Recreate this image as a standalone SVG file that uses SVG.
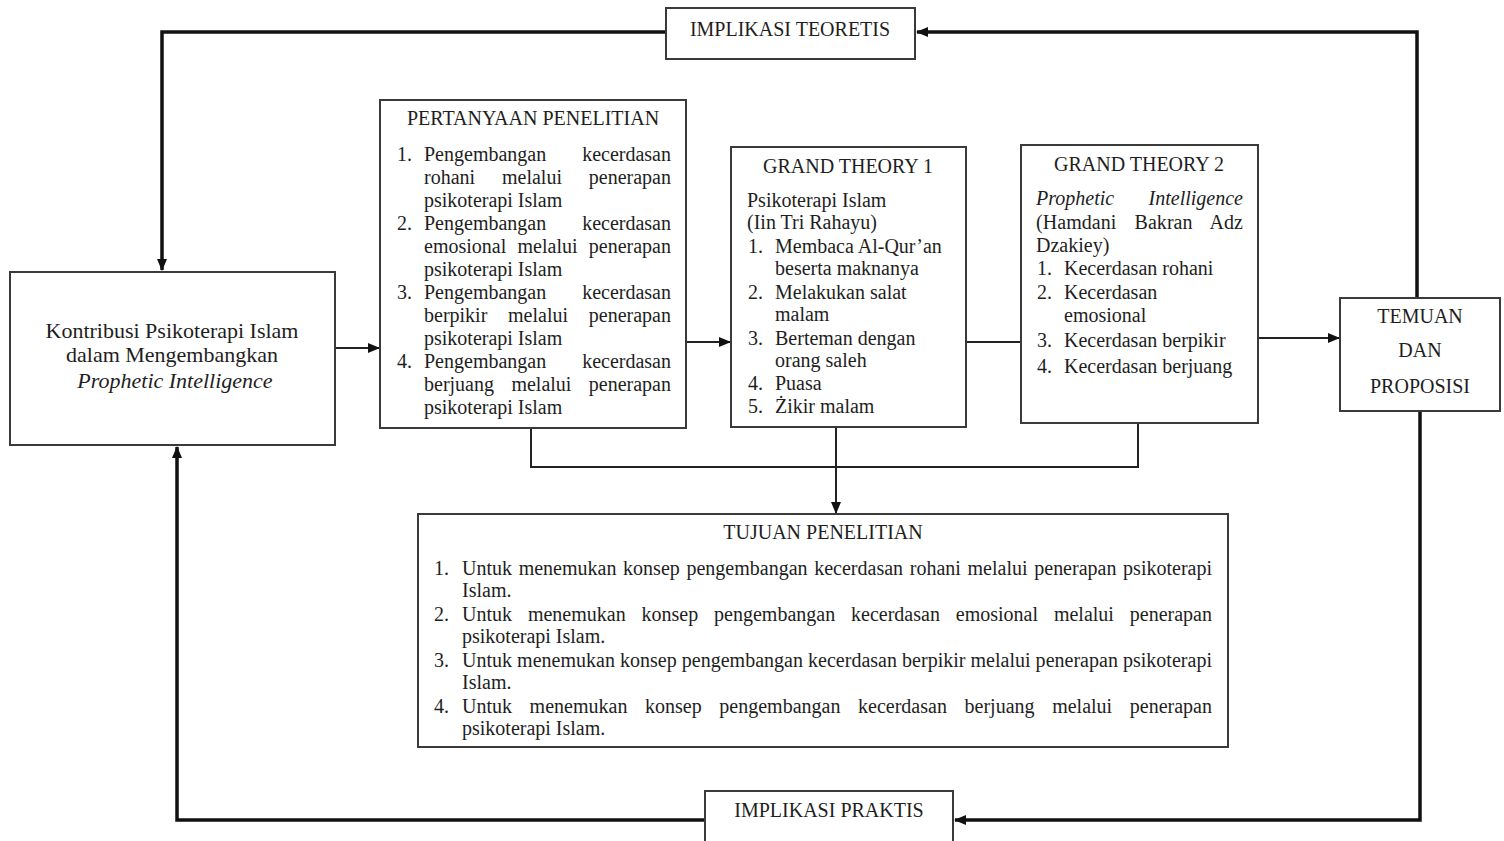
<svg xmlns="http://www.w3.org/2000/svg" width="1504" height="841" viewBox="0 0 1504 841">
<defs>
<style>
.box{fill:#fff;stroke:#3a3a3a;stroke-width:2}
.t{font-family:"Liberation Serif","Times New Roman",serif;font-size:20px;fill:#1e1e1e}
.big{font-size:22px}
.c{text-anchor:middle}
.e{text-anchor:end}
.i{font-style:italic}
.thick{fill:none;stroke:#111;stroke-width:3.5}
.thin{fill:none;stroke:#222;stroke-width:2}
</style>
<marker id="ah" markerUnits="userSpaceOnUse" markerWidth="12" markerHeight="12" viewBox="0 0 12 12" refX="11" refY="6" orient="auto">
<path d="M0,1 L12,6 L0,11 Z" fill="#111"/>
</marker>
</defs>
<rect width="1504" height="841" fill="#fff"/>

<g id="connectors">
<path class="thick" d="M1417,298 V32 H917" marker-end="url(#ah)"/>
<path class="thick" d="M666,32 H162 V270" marker-end="url(#ah)"/>
<path class="thick" d="M1420,411 V820 H955" marker-end="url(#ah)"/>
<path class="thick" d="M705,820 H177 V447" marker-end="url(#ah)"/>
<path class="thin" d="M335,348 H379" marker-end="url(#ah)"/>
<path class="thin" d="M686,342 H730" marker-end="url(#ah)"/>
<path class="thin" d="M966,342 H1021"/>
<path class="thin" d="M1258,338 H1339" marker-end="url(#ah)"/>
<path class="thin" d="M531,428 V467 H1138 V423"/>
<path class="thin" d="M836,427 V513" marker-end="url(#ah)"/>
</g>

<g id="implikasi-teoretis">
<rect class="box" x="666" y="8" width="249" height="51"/>
<text class="t c" x="790" y="36">IMPLIKASI TEORETIS</text>
</g>

<g id="kontribusi">
<rect class="box" x="10" y="272" width="325" height="173"/>
<text class="t big c" x="172" y="338">Kontribusi Psikoterapi Islam</text>
<text class="t big c" x="172" y="362">dalam Mengembangkan</text>
<text class="t big c i" x="175" y="388">Prophetic Intelligence</text>
</g>

<g id="pertanyaan">
<rect class="box" x="380" y="100" width="306" height="328"/>
<text class="t c" x="533" y="125">PERTANYAAN PENELITIAN</text>
<text class="t" x="397" y="161">1.</text>
<text class="t" x="424" y="161">Pengembangan</text><text class="t e" x="671" y="161">kecerdasan</text>
<text class="t" x="424" y="184" word-spacing="21.8" textLength="247">rohani melalui penerapan</text>
<text class="t" x="424" y="207">psikoterapi Islam</text>
<text class="t" x="397" y="230">2.</text>
<text class="t" x="424" y="230">Pengembangan</text><text class="t e" x="671" y="230">kecerdasan</text>
<text class="t" x="424" y="253" word-spacing="6.3" textLength="247">emosional melalui penerapan</text>
<text class="t" x="424" y="276">psikoterapi Islam</text>
<text class="t" x="397" y="299">3.</text>
<text class="t" x="424" y="299">Pengembangan</text><text class="t e" x="671" y="299">kecerdasan</text>
<text class="t" x="424" y="322" word-spacing="15.7" textLength="247">berpikir melalui penerapan</text>
<text class="t" x="424" y="345">psikoterapi Islam</text>
<text class="t" x="397" y="368">4.</text>
<text class="t" x="424" y="368">Pengembangan</text><text class="t e" x="671" y="368">kecerdasan</text>
<text class="t" x="424" y="391" word-spacing="12.4" textLength="247">berjuang melalui penerapan</text>
<text class="t" x="424" y="414">psikoterapi Islam</text>
</g>

<g id="grand-theory-1">
<rect class="box" x="731" y="147" width="235" height="280"/>
<text class="t c" x="848" y="173">GRAND THEORY 1</text>
<text class="t" x="747" y="207">Psikoterapi Islam</text>
<text class="t" x="747" y="229">(Iin Tri Rahayu)</text>
<text class="t" x="748" y="253">1.</text><text class="t" x="775" y="253">Membaca Al-Qur’an</text>
<text class="t" x="775" y="275">beserta maknanya</text>
<text class="t" x="748" y="299">2.</text><text class="t" x="775" y="299">Melakukan salat</text>
<text class="t" x="775" y="321">malam</text>
<text class="t" x="748" y="345">3.</text><text class="t" x="775" y="345">Berteman dengan</text>
<text class="t" x="775" y="367">orang saleh</text>
<text class="t" x="748" y="390">4.</text><text class="t" x="775" y="390">Puasa</text>
<text class="t" x="748" y="413">5.</text><text class="t" x="775" y="413">Żikir malam</text>
</g>

<g id="grand-theory-2">
<rect class="box" x="1021" y="145" width="237" height="278"/>
<text class="t c" x="1139" y="171">GRAND THEORY 2</text>
<text class="t i" x="1036" y="205">Prophetic</text><text class="t i e" x="1243" y="205">Intelligence</text>
<text class="t" x="1036" y="229" word-spacing="13" textLength="207">(Hamdani Bakran Adz</text>
<text class="t" x="1036" y="252">Dzakiey)</text>
<text class="t" x="1037" y="275">1.</text><text class="t" x="1064" y="275">Kecerdasan rohani</text>
<text class="t" x="1037" y="299">2.</text><text class="t" x="1064" y="299">Kecerdasan</text>
<text class="t" x="1064" y="322">emosional</text>
<text class="t" x="1037" y="347">3.</text><text class="t" x="1064" y="347">Kecerdasan berpikir</text>
<text class="t" x="1037" y="373">4.</text><text class="t" x="1064" y="373">Kecerdasan berjuang</text>
</g>

<g id="temuan">
<rect class="box" x="1340" y="298" width="160" height="113"/>
<text class="t c" x="1420" y="323">TEMUAN</text>
<text class="t c" x="1420" y="357">DAN</text>
<text class="t c" x="1420" y="393">PROPOSISI</text>
</g>

<g id="tujuan">
<rect class="box" x="418" y="514" width="810" height="233"/>
<text class="t c" x="823" y="539">TUJUAN PENELITIAN</text>
<text class="t" x="434" y="575">1.</text>
<text class="t" x="462" y="575" word-spacing="1.7" textLength="750">Untuk menemukan konsep pengembangan kecerdasan rohani melalui penerapan psikoterapi</text>
<text class="t" x="462" y="597">Islam.</text>
<text class="t" x="434" y="621">2.</text>
<text class="t" x="462" y="621" word-spacing="10.9" textLength="750">Untuk menemukan konsep pengembangan kecerdasan emosional melalui penerapan</text>
<text class="t" x="462" y="643">psikoterapi Islam.</text>
<text class="t" x="434" y="667">3.</text>
<text class="t" x="462" y="667" textLength="750">Untuk menemukan konsep pengembangan kecerdasan berpikir melalui penerapan psikoterapi</text>
<text class="t" x="462" y="689">Islam.</text>
<text class="t" x="434" y="713">4.</text>
<text class="t" x="462" y="713" word-spacing="12.6" textLength="750">Untuk menemukan konsep pengembangan kecerdasan berjuang melalui penerapan</text>
<text class="t" x="462" y="735">psikoterapi Islam.</text>
</g>

<g id="implikasi-praktis">
<rect class="box" x="705" y="791" width="248" height="60"/>
<text class="t c" x="829" y="817">IMPLIKASI PRAKTIS</text>
</g>
</svg>
